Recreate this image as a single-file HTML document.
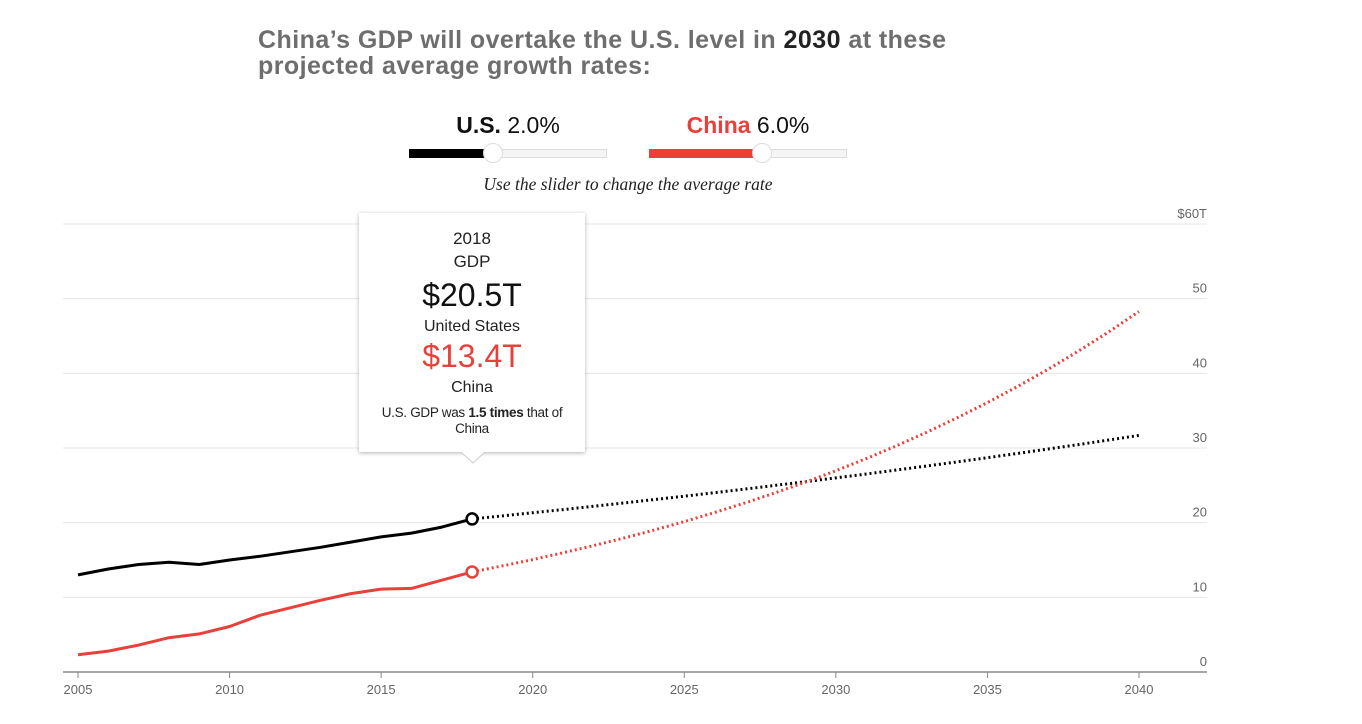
<!DOCTYPE html>
<html><head><meta charset="utf-8">
<style>
body{margin:0;width:1362px;height:724px;background:#fff;font-family:"Liberation Sans",sans-serif;position:relative;overflow:hidden}
.abs{position:absolute}
#title{left:258px;top:27px;font-size:25px;font-weight:bold;color:#6e6e6e;line-height:26px;letter-spacing:0.45px}
#title b{color:#222}
.lab{font-size:23px;color:#111;top:112px;text-align:center;width:200px}
.track{height:9px;background:#f4f4f4;border:1px solid #ddd;box-sizing:border-box;top:149px;width:198px}
.fill{height:9px;top:149px}
.knob{width:20px;height:20px;border-radius:50%;background:#fff;border:1px solid #ddd;box-sizing:border-box;top:143px}
#hint{left:0;width:1256px;text-align:center;top:174px;font-family:"Liberation Serif",serif;font-style:italic;font-size:17.5px;color:#222}
#tip{left:359px;top:213px;width:226px;height:239px;background:#fff;box-shadow:0 1px 4px rgba(0,0,0,.3);text-align:center;color:#222}
</style></head><body>
<div id="title" class="abs">China’s GDP will overtake the U.S. level in <b>2030</b> at these<br>projected average growth rates:</div>
<div class="abs lab" style="left:408px"><b>U.S.</b> 2.0%</div>
<div class="abs lab" style="left:648px"><b style="color:#e8403a">China</b> 6.0%</div>
<div class="abs track" style="left:409px"></div>
<div class="abs fill" style="left:409px;width:84px;background:#000"></div>
<div class="abs knob" style="left:483px"></div>
<div class="abs track" style="left:649px"></div>
<div class="abs fill" style="left:649px;width:113px;background:#e8403a"></div>
<div class="abs knob" style="left:752px"></div>
<div id="hint" class="abs">Use the slider to change the average rate</div>
<svg id="chart" class="abs" style="left:0;top:0" width="1362" height="724"></svg>
<div id="tip" class="abs">
<div style="font-size:17px;margin-top:16px">2018</div>
<div style="font-size:17px;margin-top:3px">GDP</div>
<div style="font-size:32px;color:#111;margin-top:5px">$20.5T</div>
<div style="font-size:16px;margin-top:4px">United States</div>
<div style="font-size:32px;color:#e8403a;margin-top:2px">$13.4T</div>
<div style="font-size:16px;margin-top:4px">China</div>
<div style="font-size:13.5px;margin-top:8px;letter-spacing:-0.3px;line-height:16px">U.S. GDP was <b>1.5 times</b> that of<br>China</div>
</div>
<svg class="abs" style="left:460px;top:451px" width="26" height="14"><path d="M0,0 L13,12 L26,0 Z" fill="#fff"/><path d="M1,1 L13,12 L25,1" fill="none" stroke="#ccc"/></svg>
<script>
const years=[2005,2006,2007,2008,2009,2010,2011,2012,2013,2014,2015,2016,2017,2018];
const usGdp=[13.0,13.8,14.4,14.7,14.4,15.0,15.5,16.1,16.7,17.4,18.1,18.6,19.4,20.5];
const chinaGdp=[2.3,2.8,3.6,4.6,5.1,6.1,7.6,8.6,9.6,10.5,11.1,11.2,12.3,13.4];
const usRate=2.0, chinaRate=6.0;
const endYear=2040;
const yTicks=[0,10,20,30,40,50,60];
const yTickLabels=["0","10","20","30","40","50","$60T"];
const xTicks=[2005,2010,2015,2020,2025,2030,2035,2040];
const NS="http://www.w3.org/2000/svg";
const svg=document.getElementById('chart');
const X=y=>78+(y-2005)*(1139-78)/35;
const Y=v=>672-v*(672-224)/60;
function mk(t,a){const e=document.createElementNS(NS,t);for(const k in a)e.setAttribute(k,a[k]);svg.appendChild(e);return e;}
yTicks.forEach((v,i)=>{
 const g=mk('line',{x1:63,x2:1207,y1:Y(v),y2:Y(v),stroke:v===0?'#888':'#e4e4e4','stroke-width':v===0?1.5:1});
 
 
 const t=mk('text',{x:1207,y:Y(v)-6,'text-anchor':'end','font-size':13,fill:'#666','font-family':'Liberation Sans, sans-serif'});
 t.textContent=yTickLabels[i];
 
 
});
xTicks.forEach(yr=>{
 const l=mk('line',{x1:X(yr),x2:X(yr),y1:672,y2:678,stroke:'#888'});
 
 
 const t=mk('text',{x:X(yr),y:694,'text-anchor':'middle','font-size':13,fill:'#666','font-family':'Liberation Sans, sans-serif'});
 t.textContent=yr;
 
 
});
function series(vals,rate,color,name){
 const d=vals.map((v,i)=>(i?'L':'M')+X(years[i]).toFixed(1)+','+Y(v).toFixed(1)).join(' ');
 const p=mk('path',{d:d,fill:'none',stroke:color,'stroke-width':3,'stroke-linejoin':'round'});
 
 
 const last=years[years.length-1], lv=vals[vals.length-1];
 let pd='M'+X(last)+','+Y(lv);
 for(let y=last+1;y<=endYear;y++){pd+=' L'+X(y).toFixed(1)+','+Y(lv*Math.pow(1+rate/100,y-last)).toFixed(1);}
 const q=mk('path',{d:pd,fill:'none',stroke:color,'stroke-width':3,'stroke-dasharray':'2,3'});
 
 
 const c=mk('circle',{cx:X(last),cy:Y(lv),r:5.5,fill:'#fff',stroke:color,'stroke-width':2.5});
 
 
}
series(usGdp,usRate,'#000','us');
series(chinaGdp,chinaRate,'#e8403a','china');
</script>
</body></html>
